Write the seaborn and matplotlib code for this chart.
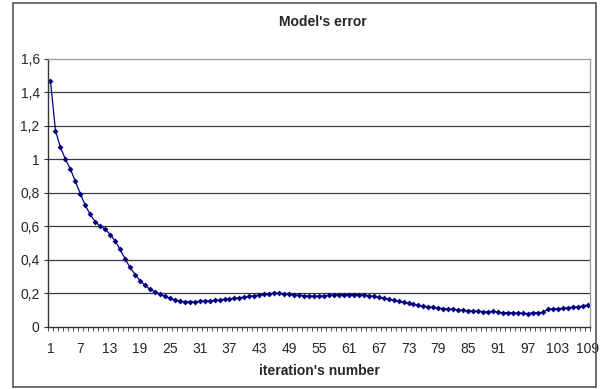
import numpy as np
import pandas as pd
import matplotlib
matplotlib.use("Agg")
import matplotlib.pyplot as plt
import seaborn as sns
from matplotlib.patches import Rectangle
from matplotlib.ticker import FixedLocator, FuncFormatter

iterations = list(range(1, 110))
error = [
    1.466, 1.172, 1.071, 1.001, 0.941, 0.869, 0.794, 0.724, 0.670, 0.626,
    0.600, 0.582, 0.550, 0.512, 0.461, 0.405, 0.353, 0.311, 0.275, 0.247,
    0.223, 0.207, 0.193, 0.180, 0.168, 0.158, 0.152, 0.148, 0.148, 0.148,
    0.150, 0.152, 0.154, 0.156, 0.158, 0.162, 0.164, 0.168, 0.172, 0.176,
    0.180, 0.184, 0.188, 0.192, 0.196, 0.200, 0.198, 0.196, 0.192, 0.188,
    0.186, 0.184, 0.182, 0.182, 0.182, 0.184, 0.186, 0.188, 0.190, 0.191,
    0.191, 0.191, 0.190, 0.188, 0.184, 0.180, 0.174, 0.168, 0.162, 0.156,
    0.150, 0.144, 0.138, 0.132, 0.126, 0.122, 0.118, 0.114, 0.110, 0.106,
    0.104, 0.102, 0.099, 0.097, 0.095, 0.093, 0.091, 0.089, 0.087, 0.091,
    0.085, 0.083, 0.083, 0.081, 0.081, 0.079, 0.077, 0.083, 0.081, 0.085,
    0.103, 0.106, 0.106, 0.108, 0.112, 0.114, 0.118, 0.122, 0.129,
]
y_ticks = [0, 0.2, 0.4, 0.6, 0.8, 1.0, 1.2, 1.4, 1.6]
x_tick_labels = list(range(1, 110, 6))

title = "Model's error"
xlabel = "iteration's number"

sns.set_style("white")
plt.rcParams['font.family'] = ['Liberation Sans', 'DejaVu Sans']

fig = plt.figure(figsize=(6.03, 3.89), dpi=100)
ax = fig.add_axes([48/603, 1 - 326.5/389, (590-48)/603, (326.5-59)/389])

df = pd.DataFrame({"pos": np.arange(len(error)), "error": error})
sns.lineplot(data=df, x="pos", y="error", ax=ax, color="#000080",
             marker="D", markersize=3, markeredgewidth=0, linewidth=0.9)

ax.set_xlim(-0.5, len(error) - 0.5)
ax.set_ylim(0, 1.6)

# gridlines
for v in y_ticks[1:-1]:
    ax.axhline(v, color="#3a3a3a", linewidth=0.9, zorder=0)

ax.set_yticks(y_ticks)
ax.yaxis.set_major_formatter(FuncFormatter(lambda v, p: ("%g" % round(v, 1)).replace(".", ",")))
ax.tick_params(axis="y", direction="out", length=3, width=0.8, color="#333333",
               labelsize=10, pad=3, left=True)

ax.xaxis.set_major_locator(FixedLocator([i - 1 for i in x_tick_labels]))
ax.set_xticklabels([str(i) for i in x_tick_labels])
ax.xaxis.set_minor_locator(FixedLocator(np.arange(-0.5, len(error), 1.0)))
ax.tick_params(axis="x", which="major", length=0, labelsize=10, pad=11, bottom=True)
ax.tick_params(axis="x", which="minor", direction="out", length=3, width=0.6,
               color="#333333", bottom=True)

for side in ["top", "right"]:
    ax.spines[side].set_color("#a0a0a0")
    ax.spines[side].set_linewidth(1.0)
for side in ["left", "bottom"]:
    ax.spines[side].set_color("#333333")
    ax.spines[side].set_linewidth(1.0)

ax.set_xlabel(xlabel, fontsize=10, fontweight="bold", labelpad=6)
ax.set_ylabel("")
fig.text(0.535, 1 - 22/389, title, ha="center", va="center", fontsize=10, fontweight="bold")

fig.patches.append(Rectangle((13/603, 1 - 387/389), (596-13)/603, (387-3)/389,
                             transform=fig.transFigure, fill=False,
                             edgecolor="#555555", linewidth=1.2))

fig.savefig("out.png", dpi=100)
